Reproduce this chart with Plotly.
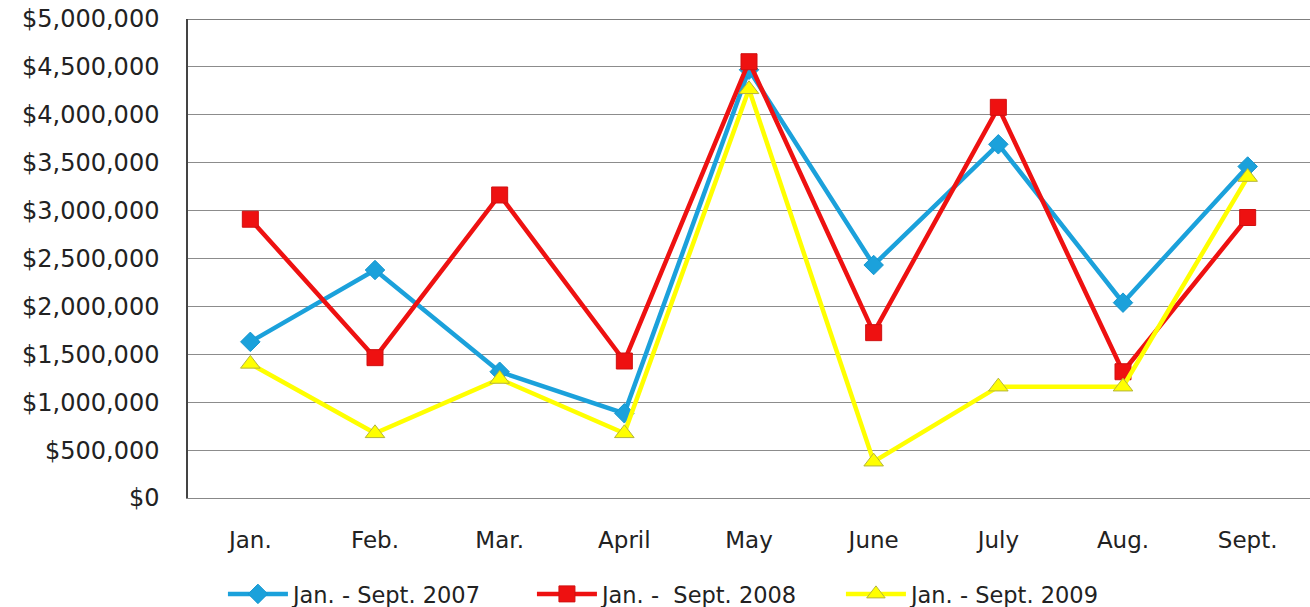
import plotly.graph_objects as go

months = ["Jan.", "Feb.", "Mar.", "April", "May", "June", "July", "Aug.", "Sept."]
sales_2007 = [1630000, 2380000, 1318000, 884000, 4470000, 2432000, 3692000, 2039000, 3460000]
sales_2008 = [2910000, 1465000, 3163000, 1430000, 4554000, 1726000, 4078000, 1318000, 2928000]
sales_2009 = [1400000, 675000, 1242000, 675000, 4266000, 379000, 1162000, 1162000, 3350000]
series_names = ["Jan. - Sept. 2007", "Jan. -\u00a0 Sept. 2008", "Jan. - Sept. 2009"]
y_ticks = [0, 500000, 1000000, 1500000, 2000000, 2500000, 3000000, 3500000, 4000000, 4500000, 5000000]
y_tick_text = ["$" + f"{v:,}" for v in y_ticks]

FONT = "DejaVu Sans"

fig = go.Figure()
fig.add_trace(go.Scatter(
    x=months, y=sales_2007, name=series_names[0], mode="lines+markers",
    line=dict(color="#1BA1DB", width=4.5),
    marker=dict(symbol="diamond", size=15, color="#1BA1DB", line=dict(color="#1797CF", width=1)),
))
fig.add_trace(go.Scatter(
    x=months, y=sales_2008, name=series_names[1], mode="lines+markers",
    line=dict(color="#EE1111", width=4.5),
    marker=dict(symbol="square", size=16, color="#EE1111", line=dict(color="#D01010", width=1)),
))
fig.add_trace(go.Scatter(
    x=months, y=sales_2009, name=series_names[2], mode="lines+markers",
    line=dict(color="#FFFF00", width=4.5),
    marker=dict(symbol="triangle-up", size=17, color="#FFFF00", line=dict(color="#B5B53A", width=1)),
))

fig.update_layout(
    width=1310, height=607,
    margin=dict(l=188, r=0, t=19, b=109),
    paper_bgcolor="white", plot_bgcolor="white",
    font=dict(family=FONT, color="#222222"),
    showlegend=True,
    legend=dict(
        orientation="h", xref="container", yref="container",
        x=0.524, y=0.021, xanchor="center", yanchor="middle",
        font=dict(family=FONT, size=22.5, color="#222222"),
        itemwidth=60, tracegroupgap=0, traceorder="normal",
        entrywidth=234, entrywidthmode="pixels",
    ),
    xaxis=dict(
        type="category", range=[-0.5, 8.5], showgrid=False, showline=True,
        linecolor="#888888", linewidth=1,
        ticks="", tickfont=dict(family=FONT, size=23, color="#222222"),
        ticklabelstandoff=21, mirror=False, zeroline=False,
    ),
    yaxis=dict(
        range=[0, 5000000], tickvals=y_ticks, ticktext=y_tick_text,
        showgrid=True, gridcolor="#8C8C8C", gridwidth=1,
        showline=True, linecolor="#444444", linewidth=1.5,
        ticks="", tickfont=dict(family=FONT, size=24, color="#222222"),
        ticklabelstandoff=22, zeroline=False, fixedrange=True,
    ),
)

# darker top border (the $5,000,000 gridline)
fig.add_shape(type="line", xref="paper", yref="y", x0=0, x1=1, y0=5000000, y1=5000000,
              line=dict(color="#555555", width=1.5), layer="below")

fig.write_html("out.html")
